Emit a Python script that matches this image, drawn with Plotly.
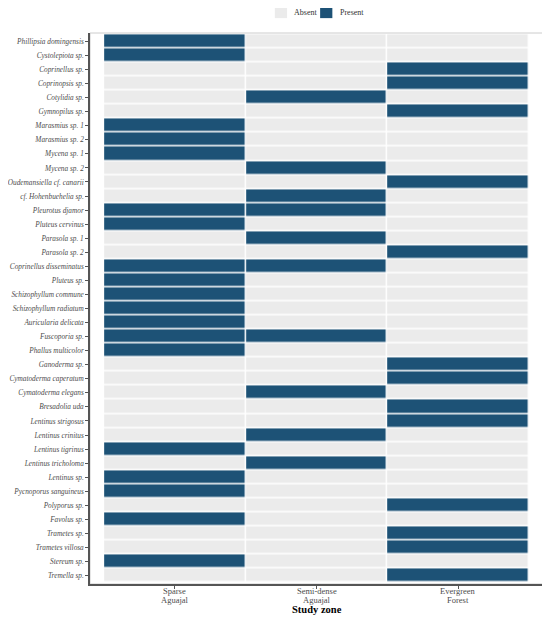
import plotly.graph_objects as go

# species, top to bottom as in the figure
species = [
    "Phillipsia domingensis", "Cystolepiota sp.", "Coprinellus sp.", "Coprinopsis sp.",
    "Cotylidia sp.", "Gymnopilus sp.", "Marasmius sp. 1", "Marasmius sp. 2",
    "Mycena sp. 1", "Mycena sp. 2", "Oudemansiella cf. canarii", "cf. Hohenbuehelia sp.",
    "Pleurotus djamor", "Pluteus cervinus", "Parasola sp. 1", "Parasola sp. 2",
    "Coprinellus disseminatus", "Pluteus sp.", "Schizophyllum commune", "Schizophyllum radiatum",
    "Auricularia delicata", "Fuscoporia sp.", "Phallus multicolor", "Ganoderma sp.",
    "Cymatoderma caperatum", "Cymatoderma elegans", "Bresadolia uda", "Lentinus strigosus",
    "Lentinus crinitus", "Lentinus tigrinus", "Lentinus tricholoma", "Lentinus sp.",
    "Pycnoporus sanguineus", "Polyporus sp.", "Favolus sp.", "Trametes sp.",
    "Trametes villosa", "Stereum sp.", "Tremella sp.",
]

zones = ["Sparse Aguajal", "Semi-dense Aguajal", "Evergreen Forest"]
zone_line1 = ["Sparse", "Semi-dense", "Evergreen"]
zone_line2 = ["Aguajal", "Aguajal", "Forest"]

# 1 = present, 0 = absent
sparse = [1, 1, 0, 0, 0, 0, 1, 1, 1, 0, 0, 0, 1, 1, 0, 0, 1, 1, 1, 1,
          1, 1, 1, 0, 0, 0, 0, 0, 0, 1, 0, 1, 1, 0, 1, 0, 0, 1, 0]
semi_dense = [0, 0, 0, 0, 1, 0, 0, 0, 0, 1, 0, 1, 1, 0, 1, 0, 1, 0, 0, 0,
              0, 1, 0, 0, 0, 1, 0, 0, 1, 0, 1, 0, 0, 0, 0, 0, 0, 0, 0]
evergreen = [0, 0, 1, 1, 0, 1, 0, 0, 0, 0, 1, 0, 0, 0, 0, 1, 0, 0, 0, 0,
             0, 0, 0, 1, 1, 0, 1, 1, 0, 0, 0, 0, 0, 1, 0, 1, 1, 0, 1]

legend_names = ["Absent", "Present"]

ABSENT = "#EBEBEB"
PRESENT = "#1D5276"
FONT = "Liberation Serif"
TXT = "#4D4D4D"

z = [[a, b, c] for a, b, c in zip(sparse, semi_dense, evergreen)]
labels = [f"<i>{s}</i>" for s in species]

fig = go.Figure()
fig.add_trace(go.Heatmap(
    z=z, x=zones, y=labels,
    colorscale=[[0, ABSENT], [1, PRESENT]],
    zmin=0, zmax=1, showscale=False,
    xgap=1.5, ygap=1.5,
    hoverinfo="skip",
))

fig.update_xaxes(
    range=[-0.6, 2.6], showline=True, linecolor="#555555", linewidth=1.5,
    ticks="outside", ticklen=3, tickcolor="#555555", showgrid=False, zeroline=False,
    automargin=False, showticklabels=False,
)
fig.update_yaxes(
    range=[len(species) - 0.4, -0.6], showline=True, linecolor="#555555", linewidth=1.5,
    ticks="outside", ticklen=3, tickcolor="#555555", showgrid=False, zeroline=False,
    automargin=False,
    tickfont=dict(family=FONT, size=7.3, color=TXT),
)

# two-line zone labels, set tight like ggplot's lineheight
for zn, l1, l2 in zip(zones, zone_line1, zone_line2):
    fig.add_annotation(x=zn, y=-0.0125, xref="x", yref="paper", text=l1, showarrow=False,
                       yanchor="middle", font=dict(family=FONT, size=8.5, color=TXT))
    fig.add_annotation(x=zn, y=-0.029, xref="x", yref="paper", text=l2, showarrow=False,
                       yanchor="middle", font=dict(family=FONT, size=8.5, color=TXT))
fig.add_annotation(x=0.5, y=-0.047, xref="paper", yref="paper", text="<b>Study zone</b>",
                   showarrow=False, yanchor="middle",
                   font=dict(family=FONT, size=10.5, color="black"))

# light panel border on top/right
fig.add_shape(type="rect", xref="paper", yref="paper", x0=0, y0=0, x1=1, y1=1,
              line=dict(color="#CCCCCC", width=1), layer="below")

# legend keys drawn by hand (ggplot-style, top centre)
key_x = [0.408, 0.508]
key_cols = [ABSENT, PRESENT]
for name, col, x0 in zip(legend_names, key_cols, key_x):
    fig.add_shape(type="rect", xref="paper", yref="paper",
                  x0=x0, x1=x0 + 0.027, y0=1.027, y1=1.047,
                  fillcolor=col, line=dict(width=0))
    fig.add_annotation(x=x0 + 0.039, y=1.037, xref="paper", yref="paper",
                       text=name, showarrow=False, xanchor="left", yanchor="middle",
                       font=dict(family=FONT, size=8, color="#333333"))

# page has an 8px body margin, so the figure is 8px smaller and shifted
fig.update_layout(
    width=542, height=614,
    margin=dict(l=82, r=7, t=25, b=38, autoexpand=False),
    plot_bgcolor="white", paper_bgcolor="white",
    font=dict(family=FONT),
    showlegend=False,
)

fig.write_html("out.html")
